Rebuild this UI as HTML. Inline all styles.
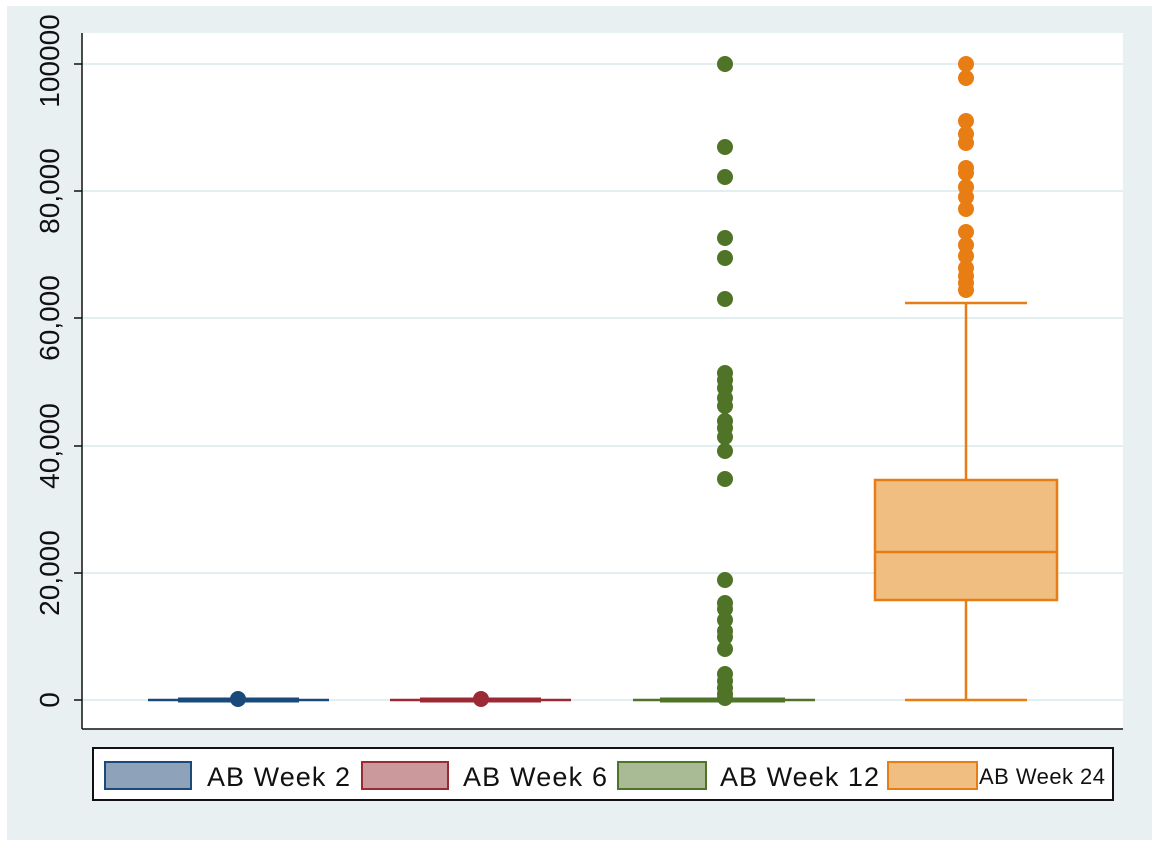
<!DOCTYPE html>
<html><head><meta charset="utf-8"><style>
html,body{margin:0;padding:0;background:#fff;}
svg{display:block;font-family:"Liberation Sans",sans-serif;}
</style></head><body>
<svg width="1159" height="847" viewBox="0 0 1159 847">
<rect x="7" y="6" width="1145" height="834" fill="#e9f0f2"/>
<rect x="82" y="33" width="1041" height="696" fill="#fff"/>
<g stroke="#e3eef1" stroke-width="2">
<line x1="82" x2="1123" y1="64" y2="64"/><line x1="82" x2="1123" y1="191" y2="191"/>
<line x1="82" x2="1123" y1="318" y2="318"/><line x1="82" x2="1123" y1="446" y2="446"/>
<line x1="82" x2="1123" y1="573" y2="573"/><line x1="82" x2="1123" y1="700" y2="700"/>
</g>
<g stroke="#111" stroke-width="1.5">
<line x1="82" y1="33" x2="82" y2="729"/><line x1="82" y1="729" x2="1123" y2="729"/>
<line x1="74" x2="82" y1="64" y2="64"/><line x1="74" x2="82" y1="191" y2="191"/>
<line x1="74" x2="82" y1="318" y2="318"/><line x1="74" x2="82" y1="446" y2="446"/>
<line x1="74" x2="82" y1="573" y2="573"/><line x1="74" x2="82" y1="700" y2="700"/>
</g>
<g font-size="28" fill="#111" text-anchor="middle">
<text transform="translate(59,61) rotate(-90)">100000</text>
<text transform="translate(59,191) rotate(-90)">80,000</text>
<text transform="translate(59,318) rotate(-90)">60,000</text>
<text transform="translate(59,446) rotate(-90)">40,000</text>
<text transform="translate(59,573) rotate(-90)">20,000</text>
<text transform="translate(59,700) rotate(-90)">0</text>
</g>
<line x1="148" x2="329" y1="700" y2="700" stroke="#1a4a7a" stroke-width="2.5"/>
<line x1="178" x2="299" y1="700" y2="700" stroke="#1a4a7a" stroke-width="5"/>
<circle cx="238" cy="699" r="8" fill="#1a4a7a"/>
<line x1="390" x2="571" y1="700" y2="700" stroke="#9b2a35" stroke-width="2.5"/>
<line x1="420" x2="541" y1="700" y2="700" stroke="#9b2a35" stroke-width="5"/>
<circle cx="481" cy="699" r="8" fill="#9b2a35"/>
<line x1="633" x2="815" y1="700" y2="700" stroke="#4f7327" stroke-width="2.5"/>
<line x1="660" x2="785" y1="700" y2="700" stroke="#4f7327" stroke-width="5"/>
<g fill="#4f7327">
<circle cx="725" cy="64" r="8"/><circle cx="725" cy="147" r="8"/><circle cx="725" cy="177" r="8"/>
<circle cx="725" cy="238" r="8"/><circle cx="725" cy="258" r="8"/><circle cx="725" cy="299" r="8"/>
<circle cx="725" cy="373" r="8"/><circle cx="725" cy="380" r="8"/><circle cx="725" cy="388" r="8"/>
<circle cx="725" cy="398" r="8"/><circle cx="725" cy="406" r="8"/><circle cx="725" cy="421" r="8"/>
<circle cx="725" cy="428" r="8"/><circle cx="725" cy="437" r="8"/><circle cx="725" cy="451" r="8"/>
<circle cx="725" cy="479" r="8"/><circle cx="725" cy="580" r="8"/><circle cx="725" cy="603" r="8"/>
<circle cx="725" cy="609" r="8"/><circle cx="725" cy="620" r="8"/><circle cx="725" cy="631" r="8"/>
<circle cx="725" cy="637" r="8"/><circle cx="725" cy="649" r="8"/><circle cx="725" cy="674" r="8"/>
<circle cx="725" cy="681" r="8"/><circle cx="725" cy="688" r="8"/><circle cx="725" cy="694" r="8"/>
<circle cx="725" cy="698" r="8"/>
</g>
<g stroke="#e87d14" stroke-width="2.5" fill="none">
<line x1="905" x2="1027" y1="700" y2="700"/><line x1="905" x2="1027" y1="303" y2="303"/>
<line x1="966" x2="966" y1="303" y2="480"/><line x1="966" x2="966" y1="600" y2="700"/>
<rect x="875" y="480" width="182" height="120" fill="#f0be80"/>
<line x1="875" x2="1057" y1="552" y2="552"/>
</g>
<g fill="#e87d14">
<circle cx="966" cy="64" r="8"/><circle cx="966" cy="78" r="8"/><circle cx="966" cy="121" r="8"/>
<circle cx="966" cy="134" r="8"/><circle cx="966" cy="143" r="8"/><circle cx="966" cy="168" r="8"/>
<circle cx="966" cy="173" r="8"/><circle cx="966" cy="187" r="8"/><circle cx="966" cy="197" r="8"/>
<circle cx="966" cy="209" r="8"/><circle cx="966" cy="232" r="8"/><circle cx="966" cy="245" r="8"/>
<circle cx="966" cy="256" r="8"/><circle cx="966" cy="268" r="8"/><circle cx="966" cy="276" r="8"/>
<circle cx="966" cy="283" r="8"/><circle cx="966" cy="290" r="8"/>
</g>
<rect x="93" y="748" width="1020" height="52" fill="#fff" stroke="#111" stroke-width="2"/>
<rect x="105" y="762" width="86" height="27" fill="#8ea3b9" stroke="#1a4a7a" stroke-width="2"/>
<text x="207" y="786" font-size="27" fill="#111" textLength="143">AB Week 2</text>
<rect x="362" y="762" width="86" height="27" fill="#cb989c" stroke="#9b2a35" stroke-width="2"/>
<text x="463" y="786" font-size="27" fill="#111" textLength="144">AB Week 6</text>
<rect x="618" y="762" width="88" height="27" fill="#a9bb95" stroke="#4f7327" stroke-width="2"/>
<text x="720" y="786" font-size="27" fill="#111" textLength="159">AB Week 12</text>
<rect x="888" y="762" width="89" height="27" fill="#f0be80" stroke="#e87d14" stroke-width="2"/>
<text x="979" y="784" font-size="22" fill="#111" textLength="126">AB Week 24</text>
</svg>
</body></html>
